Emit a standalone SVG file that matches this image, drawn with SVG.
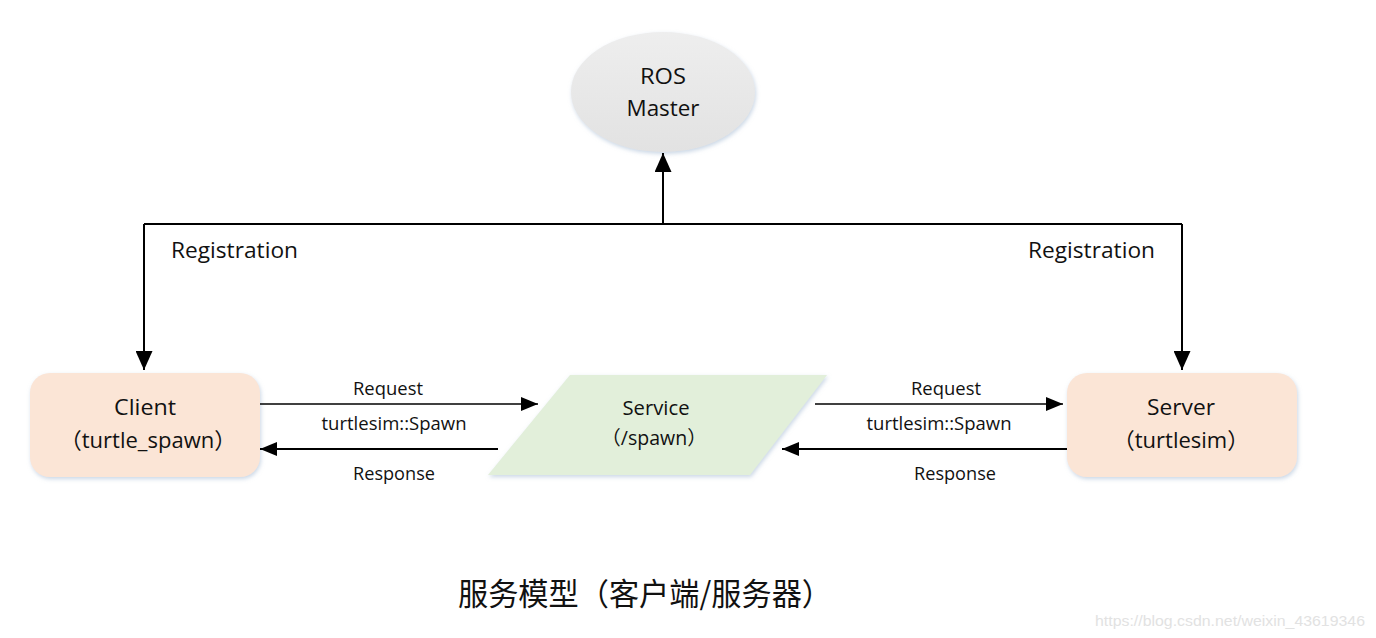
<svg xmlns="http://www.w3.org/2000/svg" width="1376" height="638" viewBox="0 0 1376 638">
<style>
.lbl{font-family:"Open Sans","Noto Sans CJK SC",sans-serif;fill:#111;text-anchor:middle}
.node{font-size:22px}
.edge{font-size:17.5px}
.reg{font-size:22px;text-anchor:start}
.cjk{font-family:"Noto Sans CJK SC",sans-serif}
.conn{fill:none;stroke:#000}
</style>
<defs>
<marker id="ah" markerUnits="userSpaceOnUse" markerWidth="19" markerHeight="17" refX="19" refY="8.5" orient="auto">
<path d="M0,0 L19,8.5 L0,17 z" fill="#000"/>
</marker>
<marker id="as" markerUnits="userSpaceOnUse" markerWidth="17" markerHeight="14" refX="17" refY="7" orient="auto">
<path d="M0,0 L17,7 L0,14 z" fill="#000"/>
</marker>
<filter id="sh" x="-10%" y="-10%" width="125%" height="130%">
<feDropShadow dx="1" dy="2" stdDeviation="2" flood-color="#9fb6d0" flood-opacity="0.55"/>
</filter>
<linearGradient id="gm" x1="0" y1="0" x2="0" y2="1">
<stop offset="0" stop-color="#eeeeee"/>
<stop offset="1" stop-color="#e2e2e2"/>
</linearGradient>
</defs>
<rect width="1376" height="638" fill="#fff"/>
<g id="master">
<ellipse cx="663" cy="92" rx="92" ry="60" fill="url(#gm)" filter="url(#sh)"/>
<text class="lbl node" x="663" y="84" textLength="46" lengthAdjust="spacingAndGlyphs">ROS</text>
<text class="lbl node" x="663" y="116" textLength="73" lengthAdjust="spacingAndGlyphs">Master</text>
</g>
<g id="client">
<rect x="30" y="373" width="230" height="104" rx="20" fill="#fbe5d6" filter="url(#sh)"/>
<text class="lbl node" x="145" y="415" textLength="62" lengthAdjust="spacingAndGlyphs">Client</text>
<text class="lbl node" x="148" y="448"><tspan class="cjk">（</tspan>turtle_spawn<tspan class="cjk">）</tspan></text>
</g>
<g id="service">
<polygon points="570,375 827,375 750,475 488,475" fill="#e2efda" filter="url(#sh)"/>
<text class="lbl" style="font-size:19.5px" x="656" y="415" textLength="67" lengthAdjust="spacingAndGlyphs">Service</text>
<text class="lbl" style="font-size:19.5px" x="654" y="445"><tspan class="cjk">（</tspan>/spawn<tspan class="cjk">）</tspan></text>
</g>
<g id="server">
<rect x="1067" y="373" width="230" height="104" rx="20" fill="#fbe5d6" filter="url(#sh)"/>
<text class="lbl node" x="1181" y="415" textLength="68" lengthAdjust="spacingAndGlyphs">Server</text>
<text class="lbl node" x="1181" y="448"><tspan class="cjk">（</tspan>turtlesim<tspan class="cjk">）</tspan></text>
</g>
<g id="connectors">
<polyline class="conn" stroke-width="2" points="144,224 1182,224"/>
<polyline class="conn" stroke-width="2" points="663,224 663,153" marker-end="url(#ah)"/>
<polyline class="conn" stroke-width="2" points="144,224 144,370" marker-end="url(#ah)"/>
<polyline class="conn" stroke-width="2" points="1182,224 1182,370" marker-end="url(#ah)"/>
<line class="conn" stroke-width="1.5" x1="260" y1="404" x2="538" y2="404" marker-end="url(#as)"/>
<line class="conn" stroke-width="2" x1="498" y1="449" x2="260" y2="449" marker-end="url(#as)"/>
<line class="conn" stroke-width="1.5" x1="815" y1="404" x2="1063" y2="404" marker-end="url(#as)"/>
<line class="conn" stroke-width="2" x1="1067" y1="449" x2="782" y2="449" marker-end="url(#as)"/>
<text class="lbl reg" x="171" y="258" textLength="127" lengthAdjust="spacingAndGlyphs">Registration</text>
<text class="lbl reg" x="1028" y="258" textLength="127" lengthAdjust="spacingAndGlyphs">Registration</text>
<text class="lbl edge" x="388" y="395" textLength="70" lengthAdjust="spacingAndGlyphs">Request</text>
<text class="lbl edge" x="394" y="430" textLength="145" lengthAdjust="spacingAndGlyphs">turtlesim::Spawn</text>
<text class="lbl edge" x="394" y="480" textLength="82" lengthAdjust="spacingAndGlyphs">Response</text>
<text class="lbl edge" x="946" y="395" textLength="70" lengthAdjust="spacingAndGlyphs">Request</text>
<text class="lbl edge" x="939" y="430" textLength="145" lengthAdjust="spacingAndGlyphs">turtlesim::Spawn</text>
<text class="lbl edge" x="955" y="480" textLength="82" lengthAdjust="spacingAndGlyphs">Response</text>
</g>
<text x="458" y="605" textLength="374" lengthAdjust="spacingAndGlyphs" style="font-family:'Noto Sans CJK SC',sans-serif;font-size:31px;fill:#111">服务模型（客户端/服务器）</text>
<text x="1095" y="626" textLength="270" lengthAdjust="spacingAndGlyphs" style="font-family:'Liberation Sans',sans-serif;font-size:15px;fill:#e2e2e2">https://blog.csdn.net/weixin_43619346</text>
</svg>
